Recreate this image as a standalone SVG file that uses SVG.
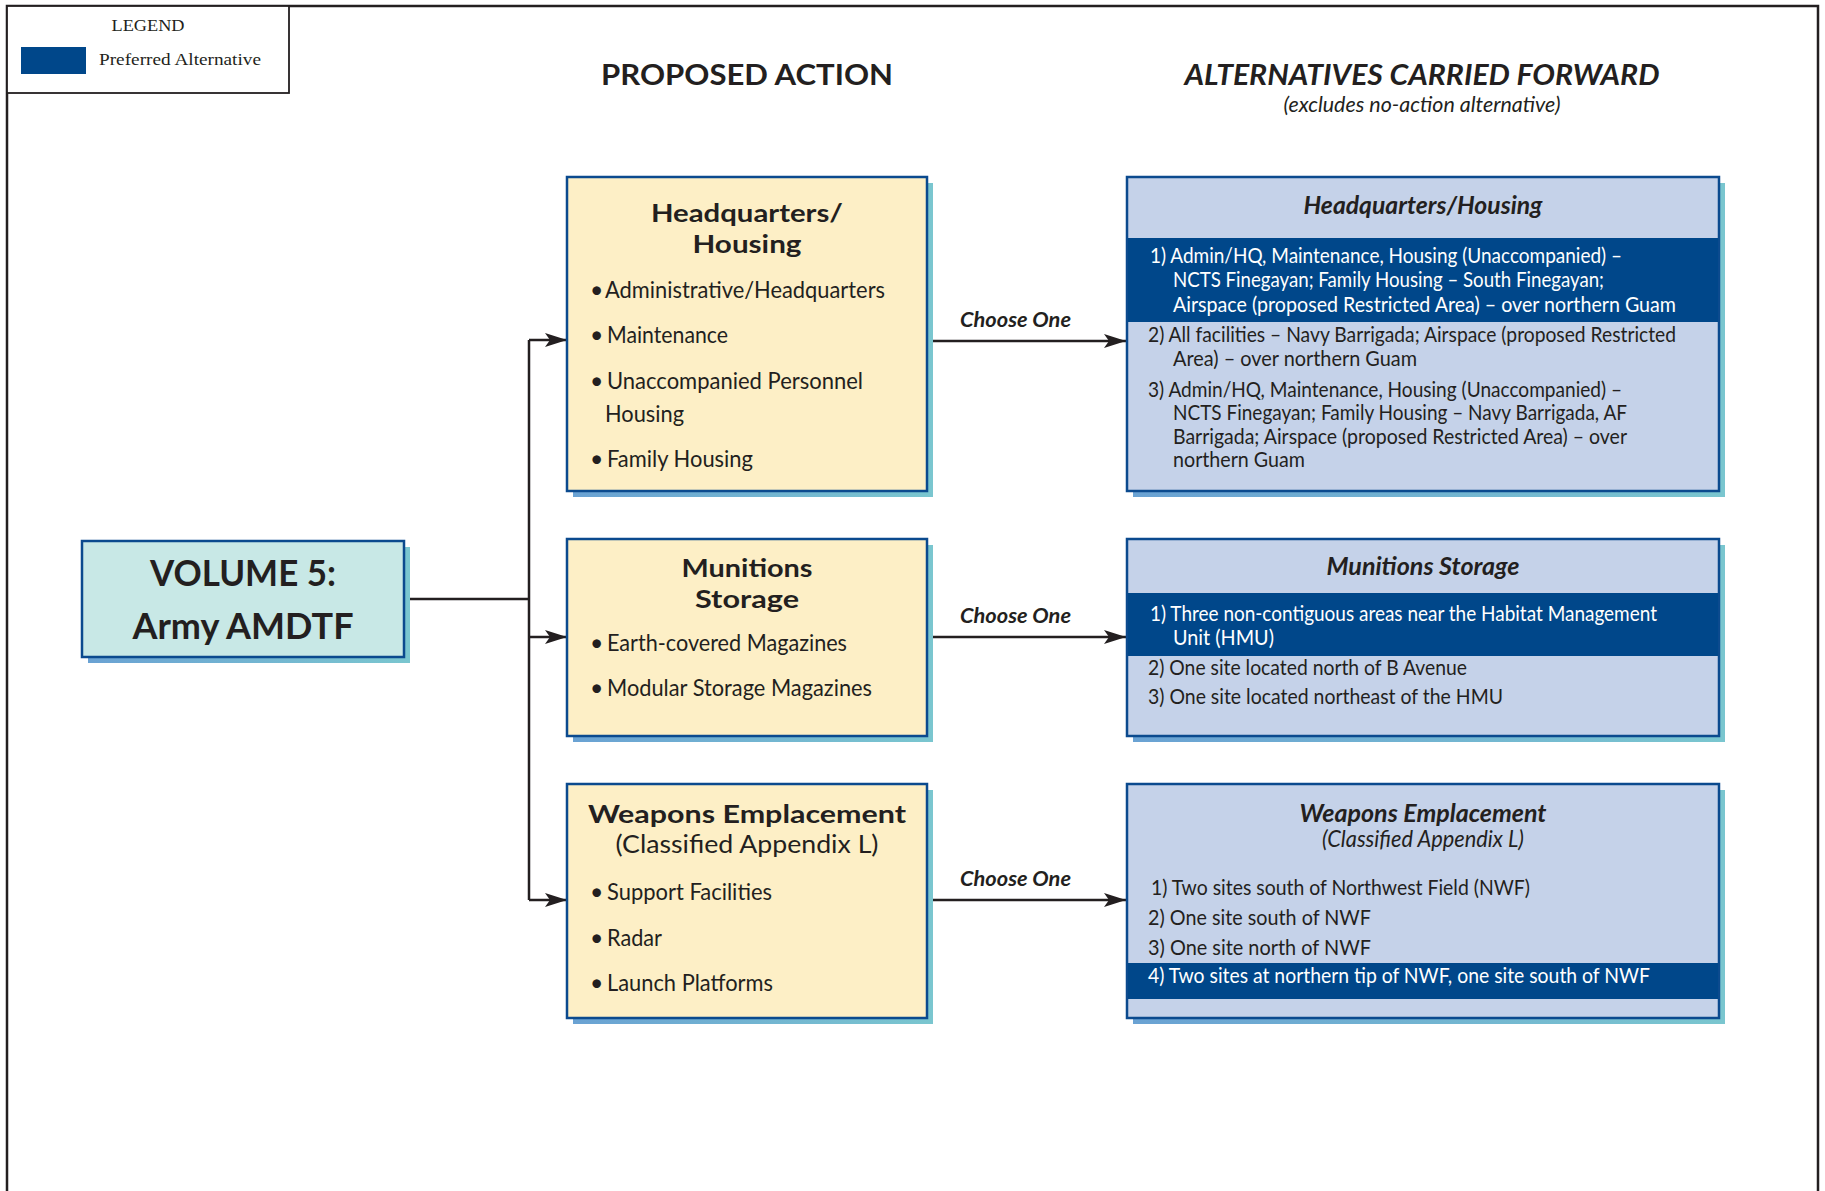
<svg xmlns="http://www.w3.org/2000/svg" width="1825" height="1191" viewBox="0 0 1825 1191">
<style>
text{font-family:Lato,"Open Sans","Liberation Sans",sans-serif;fill:#231f20}
.serif{font-family:"Liberation Serif","Times New Roman",serif}
.h{font-weight:bold;font-size:29px}
.hi{font-weight:bold;font-style:italic}
.it{font-style:italic}
.ttl{font-weight:bold;font-size:25px}
.bul{font-size:23px}
.alt{font-size:21px}
.altt{font-size:24px;font-weight:bold;font-style:italic}
.w{fill:#ffffff}
.ybox{fill:#fdefc6;stroke:#0b4a8e;stroke-width:2.5}
.bbox{fill:#c5d2e9;stroke:#0b4a8e;stroke-width:2.5}
.vbox{fill:#c8e8e6;stroke:#0b4a8e;stroke-width:2.5}
.band{fill:#00478a}
.conn{stroke:#231f20;stroke-width:2.5;fill:none}
.cho{font-size:20px;font-weight:bold;font-style:italic}
</style>
<defs>
<linearGradient id="sh" x1="0" y1="0" x2="1" y2="0">
<stop offset="0" stop-color="#6aa2d3"/>
<stop offset="1" stop-color="#7ac6cf"/>
</linearGradient>
<marker id="arr" markerUnits="userSpaceOnUse" markerWidth="24" markerHeight="16" refX="22" refY="7" orient="auto" viewBox="0 0 24 16">
<path d="M0,0 L22,7 L0,14 L5,7 Z" fill="#231f20"/>
</marker>
</defs>
<rect x="0" y="0" width="1825" height="1191" fill="#ffffff"/>
<!-- frame -->
<rect x="7" y="6" width="1811" height="1220" fill="none" stroke="#231f20" stroke-width="2.5"/>
<!-- legend -->
<g id="legend">
<rect x="7" y="6" width="282" height="87" fill="#ffffff" stroke="#231f20" stroke-width="1.8"/>
<text class="serif" x="148" y="31" font-size="17" text-anchor="middle" textLength="73" lengthAdjust="spacingAndGlyphs">LEGEND</text>
<rect x="21" y="47" width="65" height="27" fill="#00478a"/>
<text class="serif" x="99" y="65" font-size="17" textLength="162" lengthAdjust="spacingAndGlyphs">Preferred Alternative</text>
</g>
<!-- headers -->
<g id="headers">
<text class="h" x="747" y="85" text-anchor="middle" textLength="292" lengthAdjust="spacingAndGlyphs">PROPOSED ACTION</text>
<text class="hi" x="1422" y="85" font-size="28" text-anchor="middle" textLength="475" lengthAdjust="spacingAndGlyphs">ALTERNATIVES CARRIED FORWARD</text>
<text class="it" x="1422" y="112" font-size="21" text-anchor="middle" textLength="277" lengthAdjust="spacingAndGlyphs">(excludes no-action alternative)</text>
</g>
<!-- connectors -->
<g id="connectors">
<path class="conn" d="M404,599 H529"/>
<path class="conn" d="M529,340 V900"/>
<path class="conn" d="M529,340 H567" marker-end="url(#arr)"/>
<path class="conn" d="M529,637 H567" marker-end="url(#arr)"/>
<path class="conn" d="M529,900 H567" marker-end="url(#arr)"/>
<path class="conn" d="M927,341 H1126" marker-end="url(#arr)"/>
<path class="conn" d="M927,637 H1126" marker-end="url(#arr)"/>
<path class="conn" d="M927,900 H1126" marker-end="url(#arr)"/>
<text class="cho" x="960" y="327" textLength="111" lengthAdjust="spacingAndGlyphs">Choose One</text>
<text class="cho" x="960" y="623" textLength="111" lengthAdjust="spacingAndGlyphs">Choose One</text>
<text class="cho" x="960" y="886" textLength="111" lengthAdjust="spacingAndGlyphs">Choose One</text>
</g>
<!-- volume -->
<g id="volume">
<rect x="88" y="547" width="322" height="116" fill="url(#sh)"/>
<rect class="vbox" x="82" y="541" width="322" height="116"/>
<text x="243" y="586" font-size="37" font-weight="bold" text-anchor="middle" textLength="186" lengthAdjust="spacingAndGlyphs">VOLUME 5:</text>
<text x="243" y="639" font-size="37" font-weight="bold" text-anchor="middle" textLength="221" lengthAdjust="spacingAndGlyphs">Army AMDTF</text>
</g>
<!-- proposed action boxes -->
<g id="pa-hq">
<rect x="573" y="183" width="360" height="314" fill="url(#sh)"/>
<rect class="ybox" x="567" y="177" width="360" height="314"/>
<text class="ttl" x="747" y="222" text-anchor="middle" textLength="192" lengthAdjust="spacingAndGlyphs">Headquarters/</text>
<text class="ttl" x="747" y="253" text-anchor="middle" textLength="109" lengthAdjust="spacingAndGlyphs">Housing</text>
<text class="bul" x="590" y="298">•</text><text class="bul" x="605" y="298" textLength="280" lengthAdjust="spacingAndGlyphs">Administrative/Headquarters</text>
<text class="bul" x="590" y="343">•</text><text class="bul" x="607" y="343" textLength="121" lengthAdjust="spacingAndGlyphs">Maintenance</text>
<text class="bul" x="590" y="389">•</text><text class="bul" x="607" y="389" textLength="256" lengthAdjust="spacingAndGlyphs">Unaccompanied Personnel</text>
<text class="bul" x="605" y="422" textLength="79" lengthAdjust="spacingAndGlyphs">Housing</text>
<text class="bul" x="590" y="467">•</text><text class="bul" x="607" y="467" textLength="146" lengthAdjust="spacingAndGlyphs">Family Housing</text>
</g>
<g id="pa-mun">
<rect x="573" y="545" width="360" height="197" fill="url(#sh)"/>
<rect class="ybox" x="567" y="539" width="360" height="197"/>
<text class="ttl" x="747" y="577" text-anchor="middle" textLength="131" lengthAdjust="spacingAndGlyphs">Munitions</text>
<text class="ttl" x="747" y="608" text-anchor="middle" textLength="104" lengthAdjust="spacingAndGlyphs">Storage</text>
<text class="bul" x="590" y="651">•</text><text class="bul" x="607" y="651" textLength="240" lengthAdjust="spacingAndGlyphs">Earth-covered Magazines</text>
<text class="bul" x="590" y="696">•</text><text class="bul" x="607" y="696" textLength="265" lengthAdjust="spacingAndGlyphs">Modular Storage Magazines</text>
</g>
<g id="pa-wpn">
<rect x="573" y="790" width="360" height="234" fill="url(#sh)"/>
<rect class="ybox" x="567" y="784" width="360" height="234"/>
<text class="ttl" x="747" y="823" text-anchor="middle" textLength="318" lengthAdjust="spacingAndGlyphs">Weapons Emplacement</text>
<text x="747" y="853" font-size="25" text-anchor="middle" textLength="263" lengthAdjust="spacingAndGlyphs">(Classified Appendix L)</text>
<text class="bul" x="590" y="900">•</text><text class="bul" x="607" y="900" textLength="165" lengthAdjust="spacingAndGlyphs">Support Facilities</text>
<text class="bul" x="590" y="946">•</text><text class="bul" x="607" y="946" textLength="55" lengthAdjust="spacingAndGlyphs">Radar</text>
<text class="bul" x="590" y="991">•</text><text class="bul" x="607" y="991" textLength="166" lengthAdjust="spacingAndGlyphs">Launch Platforms</text>
</g>
<!-- alternatives boxes -->
<g id="alt-hq">
<rect x="1133" y="183" width="592" height="314" fill="url(#sh)"/>
<rect class="bbox" x="1127" y="177" width="592" height="314"/>
<rect class="band" x="1128" y="238" width="590" height="84"/>
<text class="altt" x="1423" y="214" text-anchor="middle" textLength="239" lengthAdjust="spacingAndGlyphs">Headquarters/Housing</text>
<text class="alt w" x="1150" y="263" textLength="472" lengthAdjust="spacingAndGlyphs">1) Admin/HQ, Maintenance, Housing (Unaccompanied) –</text>
<text class="alt w" x="1173" y="287" textLength="431" lengthAdjust="spacingAndGlyphs">NCTS Finegayan; Family Housing – South Finegayan;</text>
<text class="alt w" x="1173" y="312" textLength="503" lengthAdjust="spacingAndGlyphs">Airspace (proposed Restricted Area) – over northern Guam</text>
<text class="alt" x="1148" y="342" textLength="528" lengthAdjust="spacingAndGlyphs">2) All facilities – Navy Barrigada; Airspace (proposed Restricted</text>
<text class="alt" x="1173" y="366" textLength="244" lengthAdjust="spacingAndGlyphs">Area) – over northern Guam</text>
<text class="alt" x="1148" y="397" textLength="474" lengthAdjust="spacingAndGlyphs">3) Admin/HQ, Maintenance, Housing (Unaccompanied) –</text>
<text class="alt" x="1173" y="420" textLength="454" lengthAdjust="spacingAndGlyphs">NCTS Finegayan; Family Housing – Navy Barrigada, AF</text>
<text class="alt" x="1173" y="444" textLength="454" lengthAdjust="spacingAndGlyphs">Barrigada; Airspace (proposed Restricted Area) – over</text>
<text class="alt" x="1173" y="467" textLength="132" lengthAdjust="spacingAndGlyphs">northern Guam</text>
</g>
<g id="alt-mun">
<rect x="1133" y="545" width="592" height="197" fill="url(#sh)"/>
<rect class="bbox" x="1127" y="539" width="592" height="197"/>
<rect class="band" x="1128" y="593" width="590" height="63"/>
<text class="altt" x="1423" y="575" text-anchor="middle" textLength="193" lengthAdjust="spacingAndGlyphs">Munitions Storage</text>
<text class="alt w" x="1150" y="621" textLength="507" lengthAdjust="spacingAndGlyphs">1) Three non-contiguous areas near the Habitat Management</text>
<text class="alt w" x="1173" y="645" textLength="101" lengthAdjust="spacingAndGlyphs">Unit (HMU)</text>
<text class="alt" x="1148" y="675" textLength="319" lengthAdjust="spacingAndGlyphs">2) One site located north of B Avenue</text>
<text class="alt" x="1148" y="704" textLength="355" lengthAdjust="spacingAndGlyphs">3) One site located northeast of the HMU</text>
</g>
<g id="alt-wpn">
<rect x="1133" y="790" width="592" height="234" fill="url(#sh)"/>
<rect class="bbox" x="1127" y="784" width="592" height="234"/>
<rect class="band" x="1128" y="963" width="590" height="36"/>
<text class="altt" x="1423" y="822" text-anchor="middle" textLength="247" lengthAdjust="spacingAndGlyphs">Weapons Emplacement</text>
<text class="it" x="1423" y="847" font-size="23" text-anchor="middle" textLength="202" lengthAdjust="spacingAndGlyphs">(Classified Appendix L)</text>
<text class="alt" x="1151" y="895" textLength="379" lengthAdjust="spacingAndGlyphs">1) Two sites south of Northwest Field (NWF)</text>
<text class="alt" x="1148" y="925" textLength="223" lengthAdjust="spacingAndGlyphs">2) One site south of NWF</text>
<text class="alt" x="1148" y="955" textLength="223" lengthAdjust="spacingAndGlyphs">3) One site north of NWF</text>
<text class="alt w" x="1148" y="983" textLength="502" lengthAdjust="spacingAndGlyphs">4) Two sites at northern tip of NWF, one site south of NWF</text>
</g>
</svg>
